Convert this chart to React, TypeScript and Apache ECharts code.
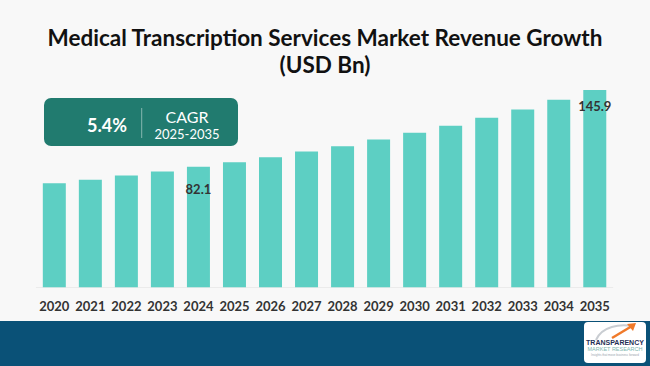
import React, { useEffect, useRef } from "react";
import * as echarts from "echarts";

const years: string[] = ["2020", "2021", "2022", "2023", "2024", "2025", "2026", "2027", "2028", "2029", "2030", "2031", "2032", "2033", "2034", "2035"];
const revenue: number[] = [68.5, 71.5, 74.9, 78.2, 82.1, 86.0, 90.2, 94.8, 99.3, 104.8, 110.4, 116.2, 122.9, 129.8, 137.8, 145.9];
const labelledYears: string[] = ["2024", "2035"];
const titleLines: string[] = ["Medical Transcription Services Market Revenue Growth", "(USD Bn)"];
const cagrValue = "5.4%";
const cagrLabel = "CAGR";
const cagrPeriod = "2025-2035";

export default function App() {
  const ref = useRef<HTMLDivElement>(null);
  useEffect(() => {
    document.body.style.margin = "0";
    if (!ref.current) return;
    const chart = echarts.init(ref.current, undefined, { renderer: "svg" });
    const data = revenue.map((v, i) => {
      const show = labelledYears.includes(years[i]);
      return {
        value: v,
        label: show
          ? {
              show: true,
              position: "insideTop",
              distance: years[i] === "2035" ? 9 : 16,
              formatter: (p: any) => String(p.value.toFixed(1)),
              color: "#333333",
              fontSize: 13,
              fontWeight: "bold",
              fontFamily: "Lato",
            }
          : { show: false },
      };
    });
    chart.setOption({
      animation: false,
      backgroundColor: "#f8f8f8",
      title: {
        text: titleLines.join("\n"),
        left: "center",
        top: 19,
        textStyle: {
          fontFamily: "Lato",
          fontWeight: "bold",
          fontSize: 22.5,
          lineHeight: 27,
          color: "#111111",
        },
      },
      grid: { left: 36.3, right: 37.2, top: 90, bottom: 78.7 },
      xAxis: {
        type: "category",
        data: years,
        axisLine: { show: true, onZero: false, lineStyle: { color: "#ebebeb", width: 1 } },
        axisTick: { show: false },
        axisLabel: {
          interval: 0,
          margin: 12,
          color: "#333333",
          fontSize: 13,
          fontWeight: "bold",
          fontFamily: "Lato",
        },
      },
      yAxis: {
        type: "value",
        min: -18,
        max: 146,
        startValue: -18,
        show: false,
        splitLine: { show: false },
      },
      series: [
        {
          type: "bar",
          data,
          barWidth: 23,
          itemStyle: { color: "#5dcfc3" },
        },
      ],
      graphic: [
        {
          type: "rect",
          shape: { x: 0, y: 321, width: 650, height: 45 },
          style: { fill: "#0a5177" },
          z: 10,
        },
        {
          type: "rect",
          shape: { x: 584, y: 322, width: 62, height: 41, r: 4 },
          style: { fill: "#ffffff" },
          z: 11,
        },
        {
          type: "bezierCurve",
          shape: { x1: 596, y1: 340, x2: 632, y2: 326, cpx1: 602, cpy1: 326, cpx2: 620, cpy2: 324 },
          style: { stroke: "#c9cdd2", lineWidth: 2, fill: "none" },
          z: 12,
        },
        {
          type: "polyline",
          shape: { points: [[612, 338], [632, 326]] },
          style: { stroke: "#f07a2a", lineWidth: 2.5 },
          z: 12,
        },
        {
          type: "polygon",
          shape: { points: [[636, 323], [627, 324], [633, 331]] },
          style: { fill: "#f07a2a" },
          z: 12,
        },
        {
          type: "text",
          style: {
            text: "TRANSPARENCY",
            x: 615,
            y: 342,
            align: "center",
            verticalAlign: "middle",
            fontSize: 7,
            fontWeight: "bold",
            fontFamily: "Liberation Sans",
            fill: "#1f2f55",
          },
          z: 12,
        },
        {
          type: "text",
          style: {
            text: "MARKET RESEARCH",
            x: 615,
            y: 349,
            align: "center",
            verticalAlign: "middle",
            fontSize: 5.5,
            fontFamily: "Liberation Sans",
            fill: "#7fb8b0",
          },
          z: 12,
        },
        {
          type: "text",
          style: {
            text: "Insights that move business forward",
            x: 615,
            y: 355,
            align: "center",
            verticalAlign: "middle",
            fontSize: 3,
            fontFamily: "Liberation Sans",
            fill: "#9aa3ad",
          },
          z: 12,
        },
        {
          type: "rect",
          shape: { x: 44, y: 98, width: 194, height: 48, r: 7 },
          style: { fill: "#217b6f" },
          z: 10,
        },
        {
          type: "line",
          shape: { x1: 141.7, y1: 108, x2: 141.7, y2: 138 },
          style: { stroke: "rgba(255,255,255,0.45)", lineWidth: 1 },
          z: 11,
        },
        {
          type: "text",
          style: {
            text: cagrValue,
            x: 107,
            y: 125,
            align: "center",
            verticalAlign: "middle",
            fontSize: 18,
            fontWeight: "bold",
            fontFamily: "Lato",
            fill: "#ffffff",
          },
          z: 11,
        },
        {
          type: "text",
          style: {
            text: cagrLabel,
            x: 187,
            y: 116,
            align: "center",
            verticalAlign: "middle",
            fontSize: 16,
            fontFamily: "Lato",
            fill: "#ffffff",
          },
          z: 11,
        },
        {
          type: "text",
          style: {
            text: cagrPeriod,
            x: 187,
            y: 133.5,
            align: "center",
            verticalAlign: "middle",
            fontSize: 13,
            fontFamily: "Lato",
            fill: "#ffffff",
          },
          z: 11,
        },
      ],
    });
    return () => chart.dispose();
  }, []);
  return <div ref={ref} style={{ width: 650, height: 366 }} />;
}
